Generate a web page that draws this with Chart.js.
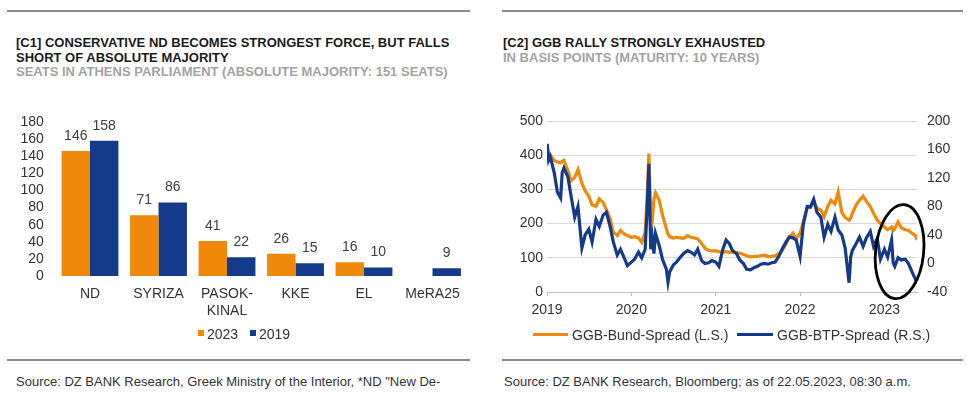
<!DOCTYPE html>
<html><head><meta charset="utf-8">
<script src="https://cdn.jsdelivr.net/npm/chart.js@4.4.1/dist/chart.umd.min.js"></script>
<style>
html,body{margin:0;padding:0;background:#fff;}
body{width:967px;height:393px;position:relative;overflow:hidden;font-family:"Liberation Sans",Arial,sans-serif;}
.rule{position:absolute;height:2px;background:#8c8c8c;}
.title{position:absolute;font-weight:bold;font-size:13px;line-height:14.5px;color:#1a1a1a;white-space:nowrap;}
.sub{color:#a3a3a3;}
.src{position:absolute;font-size:13px;line-height:14px;color:#333;white-space:nowrap;}
.cv{position:absolute;}
.leg{position:absolute;font-size:14px;line-height:16px;color:#333;white-space:nowrap;}
.sw{position:absolute;}
</style></head><body>
<div class="rule" style="left:7px;top:10px;width:463px;"></div>
<div class="rule" style="left:502px;top:10px;width:461px;"></div>
<div class="title" style="left:16px;top:36px;">[C1] CONSERVATIVE ND BECOMES STRONGEST FORCE, BUT FALLS<br>SHORT OF ABSOLUTE MAJORITY<br><span class="sub">SEATS IN ATHENS PARLIAMENT (ABSOLUTE MAJORITY: 151 SEATS)</span></div>
<div class="title" style="left:503px;top:36px;">[C2] GGB RALLY STRONGLY EXHAUSTED<br><span class="sub">IN BASIS POINTS (MATURITY: 10 YEARS)</span></div>

<div class="cv" style="left:0;top:100px;width:480px;height:240px;"><canvas id="c1" width="480" height="240"></canvas></div>
<div class="cv" style="left:480px;top:100px;width:487px;height:250px;"><canvas id="c2" width="487" height="250"></canvas></div>

<div class="sw" style="left:198px;top:330px;width:6px;height:6px;background:#F0880A;"></div>
<div class="leg" style="left:207px;top:326px;">2023</div>
<div class="sw" style="left:250px;top:330px;width:6px;height:6px;background:#133B8A;"></div>
<div class="leg" style="left:259px;top:326px;">2019</div>

<div class="sw" style="left:533px;top:333px;width:35px;height:3px;background:#F0880A;"></div>
<div class="leg" style="left:572px;top:327px;">GGB-Bund-Spread (L.S.)</div>
<div class="sw" style="left:737px;top:333px;width:36px;height:3px;background:#133B8A;"></div>
<div class="leg" style="left:777px;top:327px;">GGB-BTP-Spread (R.S.)</div>

<div class="rule" style="left:7px;top:359px;width:463px;"></div>
<div class="rule" style="left:502px;top:359px;width:461px;"></div>
<div class="src" style="left:16px;top:375px;">Source: DZ BANK Research, Greek Ministry of the Interior, *ND "New De-</div>
<div class="src" style="left:504px;top:375px;">Source: DZ BANK Research, Bloomberg; as of 22.05.2023, 08:30 a.m.</div>

<script>
// ---------- Chart C1 data ----------
const parties = ['ND', 'SYRIZA', ['PASOK-', 'KINAL'], 'KKE', 'EL', 'MeRA25'];
const seats2023 = [146, 71, 41, 26, 16, null];
const seats2019 = [158, 86, 22, 15, 10, 9];

// ---------- Chart C2 data ----------
const spreadDates = [
 '2019-01-02','2019-01-08','2019-01-15','2019-02-01','2019-02-15','2019-03-01','2019-03-08','2019-03-15',
 '2019-04-01','2019-04-15','2019-05-01','2019-05-15','2019-06-01','2019-06-15','2019-07-01','2019-07-15',
 '2019-08-01','2019-08-15','2019-09-01','2019-09-15','2019-10-01','2019-10-15','2019-11-01','2019-11-15',
 '2019-12-01','2019-12-15','2020-01-01','2020-01-15','2020-02-01','2020-02-15','2020-03-01','2020-03-09',
 '2020-03-17','2020-03-25','2020-04-01','2020-04-08','2020-04-15','2020-05-01','2020-05-15','2020-06-01',
 '2020-06-08','2020-06-15','2020-07-01','2020-07-15','2020-08-01','2020-08-15','2020-09-01','2020-09-15',
 '2020-10-01','2020-10-15','2020-11-01','2020-11-15','2020-12-01','2020-12-15','2021-01-01','2021-01-15',
 '2021-02-01','2021-02-15','2021-03-01','2021-03-15','2021-04-01','2021-04-15','2021-05-01','2021-05-15',
 '2021-06-01','2021-06-15','2021-07-01','2021-07-15','2021-08-01','2021-08-15','2021-09-01','2021-09-15',
 '2021-10-01','2021-10-15','2021-11-01','2021-11-15','2021-12-01','2021-12-15','2022-01-01','2022-01-15',
 '2022-02-01','2022-02-15','2022-03-01','2022-03-15','2022-04-01','2022-04-15','2022-05-01','2022-05-15',
 '2022-06-01','2022-06-15','2022-07-01','2022-07-15','2022-08-01','2022-08-08','2022-08-15','2022-09-01',
 '2022-09-15','2022-10-01','2022-10-15','2022-11-01','2022-11-15','2022-12-01','2022-12-15','2023-01-01',
 '2023-01-15','2023-02-01','2023-02-08','2023-02-15','2023-03-01','2023-03-15','2023-04-01','2023-04-15',
 '2023-05-01','2023-05-15','2023-05-22'
];
const bundSpread = [
 424,405,400,385,380,378,382,385,
 356,325,335,358,318,296,280,255,
 250,272,262,240,215,175,165,180,
 170,165,160,162,158,145,175,270,
 405,230,212,270,290,268,225,185,
 170,162,158,160,158,157,165,160,
 158,155,142,128,122,120,120,118,
 117,118,116,117,115,114,110,106,
 103,104,104,106,108,103,104,106,
 112,120,140,160,172,155,172,205,
 245,250,265,245,240,220,250,268,
 258,292,232,218,210,215,230,255,
 268,280,265,250,230,210,200,190,
 182,190,180,185,205,188,182,180,
 172,165,152
];
const btpSpread = [
 168,145,150,128,100,92,128,134,
 122,95,65,80,22,40,48,30,
 62,52,68,72,52,30,12,20,
 8,-3,2,6,16,8,20,75,
 140,20,36,14,42,25,6,-8,
 -26,-12,-2,2,9,14,18,16,
 12,20,4,0,1,4,2,-4,
 20,33,28,18,14,5,0,-8,
 -9,-6,-4,-1,0,-1,1,2,
 10,20,30,37,36,33,10,55,
 80,79,90,72,65,37,55,45,
 65,47,40,22,-27,9,18,28,
 37,24,36,45,24,35,6,20,
 9,33,1,-4,8,5,6,0,
 -12,-22,-28
];
const yearTicks = [2019, 2020, 2021, 2022, 2023];

const ORANGE = '#F0880A', BLUE = '#133B8A', TXT = '#333333';
const FONT = '"Liberation Sans", Arial, sans-serif';
Chart.defaults.font.family = FONT;
Chart.defaults.color = TXT;

function decYear(s) {
  const [y, m, d] = s.split('-').map(Number);
  const a = Date.UTC(y, 0, 1), b = Date.UTC(y + 1, 0, 1);
  return y + (Date.UTC(y, m - 1, d) - a) / (b - a);
}

// ---------- C1 ----------
const barLabels = {
  id: 'barLabels',
  afterDatasetsDraw(chart) {
    const ctx = chart.ctx;
    ctx.save();
    ctx.font = '14px ' + FONT;
    ctx.fillStyle = '#404040';
    ctx.textAlign = 'center';
    ctx.textBaseline = 'middle';
    chart.data.datasets.forEach((ds, i) => {
      chart.getDatasetMeta(i).data.forEach((bar, j) => {
        const v = ds.data[j];
        if (v === null || v === undefined) return;
        ctx.fillText(String(v), bar.x, bar.y - 15);
      });
    });
    ctx.restore();
  }
};

new Chart(document.getElementById('c1'), {
  type: 'bar',
  data: {
    labels: parties,
    datasets: [
      { label: '2023', data: seats2023, backgroundColor: ORANGE, borderWidth: 0 },
      { label: '2019', data: seats2019, backgroundColor: BLUE, borderWidth: 0 }
    ]
  },
  options: {
    responsive: false, animation: false,
    layout: { padding: { top: 22, right: 13.25, left: 0, bottom: 0 } },
    plugins: { legend: { display: false }, tooltip: { enabled: false } },
    datasets: { bar: { categoryPercentage: 0.83, barPercentage: 1.0 } },
    scales: {
      x: {
        grid: { display: false, drawTicks: false },
        border: { display: false },
        ticks: { font: { size: 14 }, color: TXT, padding: 10, maxRotation: 0, autoSkip: false },
        afterFit(s) { s.height = 64; }
      },
      y: {
        min: 0, max: 180,
        grid: { display: false, drawTicks: false },
        border: { display: false },
        ticks: { stepSize: 20, font: { size: 14 }, color: TXT, padding: 12, autoSkip: false },
        afterFit(s) { s.width = 55.75; }
      }
    }
  },
  plugins: [barLabels]
});

// ---------- C2 ----------
const ellipseMark = {
  id: 'ellipseMark',
  afterDatasetsDraw(chart) {
    const xs = chart.scales.x, ys = chart.scales.yL, ctx = chart.ctx;
    const cx = xs.getPixelForValue(2023.18), cy = ys.getPixelForValue(118);
    const rx = xs.getPixelForValue(2023.18 + 0.285) - cx;
    const ry = ys.getPixelForValue(118) - ys.getPixelForValue(256);
    ctx.save();
    ctx.strokeStyle = '#000';
    ctx.lineWidth = 2.8;
    ctx.beginPath();
    ctx.ellipse(cx, cy, rx, ry, 0.1, 0, Math.PI * 2);
    ctx.stroke();
    ctx.restore();
  }
};

const xs = spreadDates.map(decYear);
new Chart(document.getElementById('c2'), {
  type: 'line',
  data: {
    datasets: [
      { label: 'GGB-BTP-Spread (R.S.)', data: xs.map((x, i) => ({ x, y: btpSpread[i] })),
        yAxisID: 'yR', borderColor: BLUE, backgroundColor: BLUE, borderWidth: 3.2,
        pointRadius: 0, tension: 0, fill: false },
      { label: 'GGB-Bund-Spread (L.S.)', data: xs.map((x, i) => ({ x, y: bundSpread[i] })),
        yAxisID: 'yL', borderColor: ORANGE, backgroundColor: ORANGE, borderWidth: 3.2,
        pointRadius: 0, tension: 0, fill: false }
    ]
  },
  options: {
    responsive: false, animation: false,
    layout: { padding: { top: 21, right: 0, left: 0, bottom: 0 } },
    plugins: { legend: { display: false }, tooltip: { enabled: false } },
    scales: {
      x: {
        type: 'linear', min: 2019, max: xs[xs.length - 1],
        grid: { drawOnChartArea: false, drawTicks: true, tickLength: 4, color: '#bfbfbf' },
        border: { display: true, color: '#bfbfbf', width: 1 },
        ticks: { font: { size: 14 }, color: TXT, padding: 6, maxRotation: 0, autoSkip: false,
                 callback: v => String(v) },
        afterBuildTicks(s) { s.ticks = yearTicks.map(v => ({ value: v })); },
        afterFit(s) { s.height = 58; }
      },
      yL: {
        position: 'left', min: 0, max: 500,
        grid: { color: '#d9d9d9', drawTicks: false, lineWidth: 1 },
        border: { display: false },
        ticks: { stepSize: 100, font: { size: 14 }, color: TXT, padding: 4, autoSkip: false },
        afterFit(s) { s.width = 67; }
      },
      yR: {
        position: 'right', min: -40, max: 200,
        grid: { display: false, drawTicks: false },
        border: { display: false },
        ticks: { stepSize: 40, font: { size: 14 }, color: TXT, padding: 10, autoSkip: false },
        afterFit(s) { s.width = 50; }
      }
    }
  },
  plugins: [ellipseMark]
});
</script>
</body></html>
